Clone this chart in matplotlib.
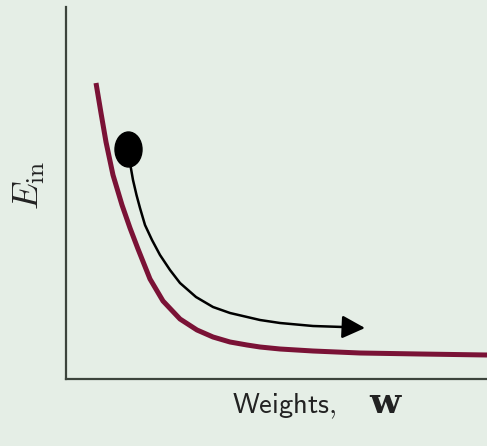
import numpy as np
import matplotlib
matplotlib.use("Agg")
import matplotlib.pyplot as plt
from matplotlib.patches import Ellipse, FancyArrowPatch

plt.rcParams['mathtext.fontset'] = 'cm'

# error curve E_in(w) (units: pixels from the axes corner)
curve_x = [30, 35, 40, 47, 56, 64, 72, 84, 97, 114, 131, 147, 164, 181, 194, 214, 247, 294, 354, 421]
curve_y = [296, 266, 237, 204, 174, 151, 130, 100, 78, 60, 49, 42, 37, 34, 32, 30, 28, 26, 25, 24]

# gradient descent path
path_x = [64, 67, 70.5, 74, 79, 86, 94, 104, 114, 130, 147, 164, 194, 214, 247, 277]
path_y = [216, 199, 184, 171, 154, 139, 124, 109, 96, 82, 72, 66, 59, 56, 53, 52]
arrow_tip = (299, 51)

# start point
start = (62.5, 229.5)

bg = '#e5eee6'
fig = plt.figure(figsize=(4.87, 4.46), dpi=100, facecolor=bg)
ax = fig.add_axes([66 / 487, 67 / 446, 421 / 487, 372 / 446], facecolor=bg)
ax.set_xlim(0, 421)
ax.set_ylim(0, 372)

ax.plot(curve_x, curve_y, color='#7a1236', lw=3.6, solid_capstyle='butt',
        solid_joinstyle='round', zorder=2)

ax.plot(path_x, path_y, color='black', lw=1.8, solid_joinstyle='round', zorder=3)
ax.add_patch(FancyArrowPatch((path_x[-1], path_y[-1]), arrow_tip,
                             arrowstyle='-|>,head_length=14,head_width=7',
                             color='black', lw=1.8, mutation_scale=1, zorder=3,
                             shrinkA=0, shrinkB=0))
ax.add_patch(Ellipse(start, 27, 35, color='black', zorder=4))

for s in ['top', 'right']:
    ax.spines[s].set_visible(False)
for s in ['left', 'bottom']:
    ax.spines[s].set_color('#3c443c')
    ax.spines[s].set_linewidth(1.6)
ax.set_xticks([])
ax.set_yticks([])

fig.text(29 / 487, 1 - 185 / 446, r'$E_{\rm in}$', rotation=90, fontsize=26,
         ha='center', va='center', color='#222222')
fig.text(284 / 487, 1 - 413 / 446, r'$\mathsf{Weights,}$', fontsize=20.5,
         ha='center', va='baseline', color='#222222')
fig.text(385 / 487, 1 - 413 / 446, 'w', family='DejaVu Serif', fontweight='bold',
         fontsize=26, ha='center', va='baseline', color='#222222')

fig.savefig('out.png', dpi=100, facecolor=bg)
